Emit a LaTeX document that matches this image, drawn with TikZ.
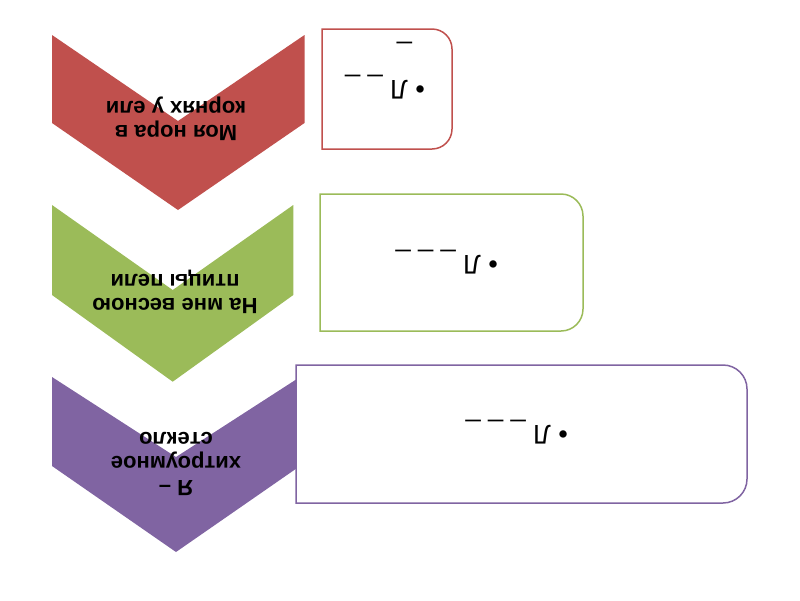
\documentclass[tikz,border=0pt]{standalone}
\usepackage{fontspec}
\setmainfont{Liberation Sans}
\definecolor{cred}{HTML}{C0504D}
\definecolor{cgreen}{HTML}{9BBB59}
\definecolor{cpurple}{HTML}{8064A2}
\tikzset{
  chev/.style={draw=none},
  chevtext/.style={rotate=180, align=center, inner sep=0pt, font=\bfseries\fontsize{22}{24}\selectfont, text=black},
  boxline/.style={line width=1.5pt, fill=white},
  boxtext/.style={rotate=180, anchor=base west, inner sep=0pt, font=\fontsize{27}{33}\selectfont, text=black}
}
\begin{document}
\begin{tikzpicture}[x=1pt, y=-1pt]
\useasboundingbox (0,0) rectangle (800,600);
% chevrons
\fill[cred, chev] (52,35) -- (178,121) -- (304.5,35) -- (304.5,123) -- (178,210) -- (52,123) -- cycle;
\fill[cgreen, chev] (52,205) -- (172.7,290) -- (293.3,205) -- (293.3,295) -- (172.7,381.7) -- (52,295) -- cycle;
\fill[cpurple, chev] (52,377) -- (176,457) -- (300,377) -- (300,466) -- (176,552) -- (52,466) -- cycle;
% boxes (rounded on the right side)
\draw[boxline, draw=cred] (322,29) -- (432,29) .. controls (443.04,29) and (452,37.96) .. (452,49)
  -- (452,129) .. controls (452,140.04) and (443.04,149) .. (432,149) -- (322,149) -- cycle;
\draw[boxline, draw=cgreen] (320,194) -- (561,194) .. controls (573.14,194) and (583,203.86) .. (583,216)
  -- (583,309) .. controls (583,321.14) and (573.14,331) .. (561,331) -- (320,331) -- cycle;
\draw[boxline, draw=cpurple] (296,365) -- (723,365) .. controls (736.25,365) and (747,375.75) .. (747,389)
  -- (747,479) .. controls (747,492.25) and (736.25,503) .. (723,503) -- (296,503) -- cycle;
% chevron texts
\node[chevtext] (t1) at (176,119) {Моя нора в\\корнях у ели};
\node[chevtext] (t2) at (175,292) {На мне весною\\птицы пели};
\node[chevtext] (t3) at (176,464) {Я –\\хитроумное\\стекло};
% box texts
\node[boxtext] (b1a) at (425,80) {• Л \_ \_};
\node[boxtext] (b1b) at (412,47) {\_};
\node[boxtext] (b2) at (498,255) {• Л \_ \_ \_};
\node[boxtext] (b3) at (568,425) {• Л \_ \_ \_};
\end{tikzpicture}
\end{document}
